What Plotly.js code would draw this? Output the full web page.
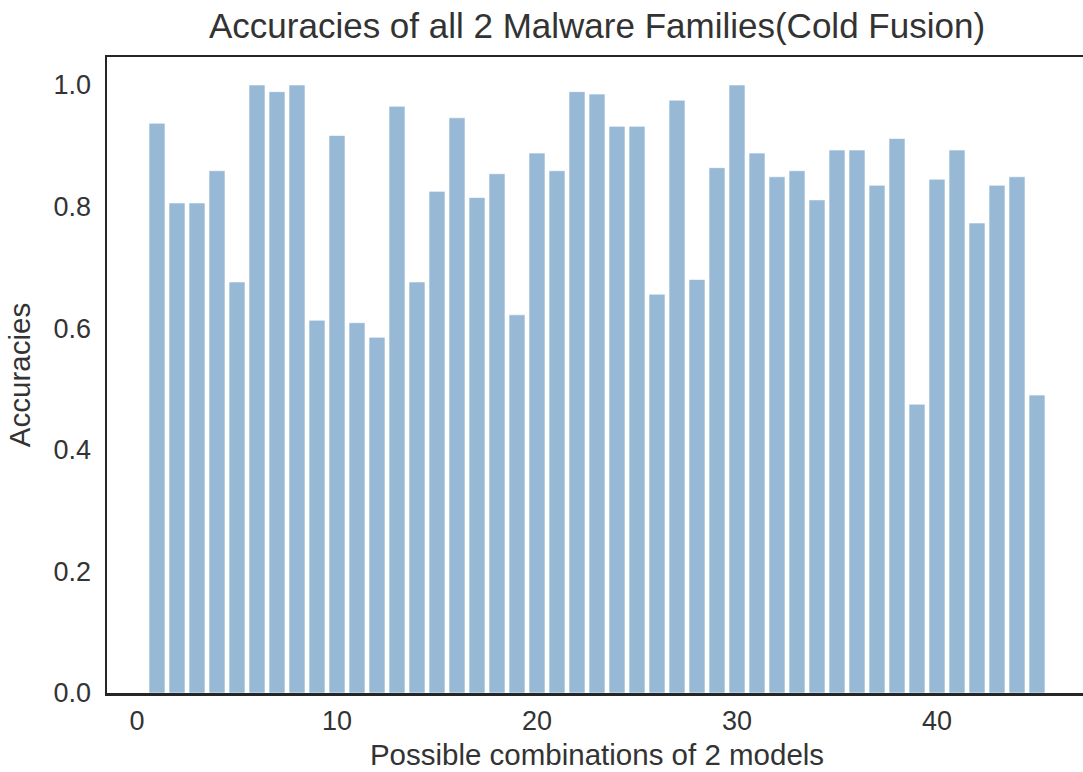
<!DOCTYPE html>
<html>
<head>
<meta charset="utf-8">
<script src="https://cdn.plot.ly/plotly-3.0.1.min.js"></script>
<style>
  html, body { margin: 0; padding: 0; background: #ffffff; overflow: hidden; }
  #chart { width: 1100px; height: 772px; }
</style>
</head>
<body>
<div id="chart"></div>
<script>
// Combination index (1..45) and the accuracy reached by each 2-model pair
const combinations = Array.from({ length: 45 }, (_, i) => i + 1);
const accuracies = [
  0.937, 0.806, 0.806, 0.859, 0.676, 1.000, 0.989, 1.000, 0.613, 0.917,
  0.609, 0.585, 0.965, 0.676, 0.825, 0.946, 0.815, 0.854, 0.622, 0.888,
  0.859, 0.989, 0.985, 0.932, 0.932, 0.656, 0.975, 0.680, 0.864, 1.000,
  0.888, 0.849, 0.859, 0.811, 0.893, 0.893, 0.835, 0.912, 0.475, 0.845,
  0.893, 0.773, 0.835, 0.849, 0.490
];
const xTicks = [0, 10, 20, 30, 40];
const yTicks = [0.0, 0.2, 0.4, 0.6, 0.8, 1.0];

const textColor = '#333333';
const lineColor = '#262626';
const fontFamily = '"Liberation Sans", Arial, Helvetica, sans-serif';

const trace = {
  type: 'bar',
  x: combinations,
  y: accuracies,
  width: 0.8,
  marker: {
    color: 'rgb(151,185,214)',
    line: { color: 'rgba(255,255,255,0.6)', width: 1 }
  },
  hoverinfo: 'x+y'
};

const layout = {
  width: 1100,
  height: 772,
  margin: { l: 107, r: 13, t: 57, b: 79, pad: 0 },
  paper_bgcolor: '#ffffff',
  plot_bgcolor: '#ffffff',
  showlegend: false,
  bargap: 0.2,
  font: { family: fontFamily, color: textColor, size: 27 },
  title: {
    text: 'Accuracies of all 2 Malware Families(Cold Fusion)',
    font: { family: fontFamily, size: 35, color: textColor },
    x: 0.5,
    xref: 'paper',
    xanchor: 'center',
    y: 1 - 26 / 772,
    yref: 'container',
    yanchor: 'middle'
  },
  xaxis: {
    range: [-1.5, 47.5],
    tickvals: xTicks,
    ticktext: xTicks.map(String),
    ticks: '',
    showgrid: false,
    zeroline: false,
    showline: true,
    mirror: true,
    linecolor: lineColor,
    linewidth: 2.5,
    ticklabelstandoff: 2,
    tickfont: { family: fontFamily, size: 27, color: textColor },
    title: {
      text: 'Possible combinations of 2 models',
      font: { family: fontFamily, size: 29.5, color: textColor },
      standoff: 10
    }
  },
  yaxis: {
    range: [0, 1.046],
    tickvals: yTicks,
    ticktext: yTicks.map(v => v.toFixed(1)),
    ticks: '',
    showgrid: false,
    zeroline: false,
    showline: true,
    mirror: true,
    linecolor: lineColor,
    linewidth: 2.5,
    ticklabelstandoff: 8,
    tickfont: { family: fontFamily, size: 27, color: textColor },
    title: {
      text: 'Accuracies',
      font: { family: fontFamily, size: 29.5, color: textColor },
      standoff: 14
    }
  }
};

Plotly.newPlot('chart', [trace], layout, { displayModeBar: false, staticPlot: true });
</script>
</body>
</html>
